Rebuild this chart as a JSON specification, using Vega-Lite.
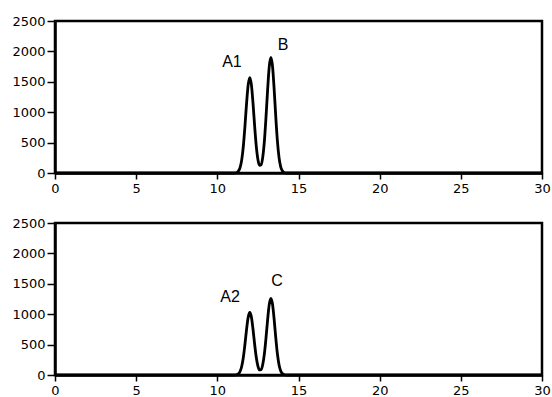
{
  "$schema": "https://vega.github.io/schema/vega-lite/v6.json",
  "padding": {"left": 10, "top": 13, "right": 0, "bottom": 0},
  "background": "white",
  "spacing": 18,
  "datasets": {
    "trace": [
      {"panel": 1, "t": 0, "s": 0},
      {"panel": 1, "t": 11.0, "s": 0},
      {"panel": 1, "t": 11.1, "s": 2},
      {"panel": 1, "t": 11.2, "s": 9},
      {"panel": 1, "t": 11.3, "s": 31},
      {"panel": 1, "t": 11.4, "s": 88},
      {"panel": 1, "t": 11.5, "s": 212},
      {"panel": 1, "t": 11.6, "s": 436},
      {"panel": 1, "t": 11.7, "s": 765},
      {"panel": 1, "t": 11.8, "s": 1140},
      {"panel": 1, "t": 11.9, "s": 1449},
      {"panel": 1, "t": 12.0, "s": 1570},
      {"panel": 1, "t": 12.1, "s": 1449},
      {"panel": 1, "t": 12.2, "s": 1140},
      {"panel": 1, "t": 12.3, "s": 766},
      {"panel": 1, "t": 12.4, "s": 439},
      {"panel": 1, "t": 12.5, "s": 223},
      {"panel": 1, "t": 12.6, "s": 126},
      {"panel": 1, "t": 12.7, "s": 137},
      {"panel": 1, "t": 12.8, "s": 266},
      {"panel": 1, "t": 12.9, "s": 530},
      {"panel": 1, "t": 13.0, "s": 926},
      {"panel": 1, "t": 13.1, "s": 1379},
      {"panel": 1, "t": 13.2, "s": 1754},
      {"panel": 1, "t": 13.3, "s": 1900},
      {"panel": 1, "t": 13.4, "s": 1754},
      {"panel": 1, "t": 13.5, "s": 1379},
      {"panel": 1, "t": 13.6, "s": 925},
      {"panel": 1, "t": 13.7, "s": 528},
      {"panel": 1, "t": 13.8, "s": 257},
      {"panel": 1, "t": 13.9, "s": 106},
      {"panel": 1, "t": 14.0, "s": 38},
      {"panel": 1, "t": 14.1, "s": 11},
      {"panel": 1, "t": 14.2, "s": 3},
      {"panel": 1, "t": 14.3, "s": 0},
      {"panel": 1, "t": 30, "s": 0},
      {"panel": 2, "t": 0, "s": 0},
      {"panel": 2, "t": 11.0, "s": 0},
      {"panel": 2, "t": 11.1, "s": 1},
      {"panel": 2, "t": 11.2, "s": 6},
      {"panel": 2, "t": 11.3, "s": 20},
      {"panel": 2, "t": 11.4, "s": 58},
      {"panel": 2, "t": 11.5, "s": 139},
      {"panel": 2, "t": 11.6, "s": 286},
      {"panel": 2, "t": 11.7, "s": 502},
      {"panel": 2, "t": 11.8, "s": 748},
      {"panel": 2, "t": 11.9, "s": 951},
      {"panel": 2, "t": 12.0, "s": 1030},
      {"panel": 2, "t": 12.1, "s": 951},
      {"panel": 2, "t": 12.2, "s": 748},
      {"panel": 2, "t": 12.3, "s": 502},
      {"panel": 2, "t": 12.4, "s": 288},
      {"panel": 2, "t": 12.5, "s": 147},
      {"panel": 2, "t": 12.6, "s": 83},
      {"panel": 2, "t": 12.7, "s": 91},
      {"panel": 2, "t": 12.8, "s": 176},
      {"panel": 2, "t": 12.9, "s": 352},
      {"panel": 2, "t": 13.0, "s": 614},
      {"panel": 2, "t": 13.1, "s": 915},
      {"panel": 2, "t": 13.2, "s": 1163},
      {"panel": 2, "t": 13.3, "s": 1260},
      {"panel": 2, "t": 13.4, "s": 1163},
      {"panel": 2, "t": 13.5, "s": 915},
      {"panel": 2, "t": 13.6, "s": 614},
      {"panel": 2, "t": 13.7, "s": 350},
      {"panel": 2, "t": 13.8, "s": 170},
      {"panel": 2, "t": 13.9, "s": 71},
      {"panel": 2, "t": 14.0, "s": 25},
      {"panel": 2, "t": 14.1, "s": 8},
      {"panel": 2, "t": 14.2, "s": 2},
      {"panel": 2, "t": 14.3, "s": 0},
      {"panel": 2, "t": 30, "s": 0}
    ],
    "labels": [
      {"panel": 1, "label": "A1", "t": 10.9, "s": 1826},
      {"panel": 1, "label": "B", "t": 14.05, "s": 2105},
      {"panel": 2, "label": "A2", "t": 10.78, "s": 1290},
      {"panel": 2, "label": "C", "t": 13.67, "s": 1548}
    ]
  },
  "config": {
    "view": {"stroke": "black", "strokeWidth": 2.5},
    "axis": {
      "grid": false,
      "domainColor": "black",
      "domainWidth": 2.5,
      "tickColor": "black",
      "tickWidth": 1.5,
      "labelFont": "DejaVu Sans",
      "labelFontSize": 13,
      "labelColor": "black",
      "labelBound": false,
      "title": null
    },
    "axisX": {"tickSize": 6, "labelPadding": 3},
    "axisY": {"tickSize": 8, "labelPadding": 2}
  },
  "vconcat": [
    {
      "width": 487,
      "height": 152,
      "encoding": {
        "x": {"field": "t", "type": "quantitative", "scale": {"domain": [0, 30], "nice": false},
              "axis": {"values": [0, 5, 10, 15, 20, 25, 30], "labelFlush": false, "labelOverlap": false, "format": "d"}},
        "y": {"field": "s", "type": "quantitative", "scale": {"domain": [0, 2500], "nice": false},
              "axis": {"values": [0, 500, 1000, 1500, 2000, 2500], "labelOverlap": false, "format": "d", "labelFlush": false}}
      },
      "layer": [
        {
          "data": {"name": "trace"},
          "transform": [{"filter": "datum.panel == 1"}],
          "mark": {"type": "line", "color": "black", "strokeWidth": 2.8, "interpolate": "monotone"}
        },
        {
          "data": {"name": "labels"},
          "transform": [{"filter": "datum.panel == 1"}],
          "mark": {"type": "text", "font": "Liberation Sans", "fontSize": 16, "color": "black", "align": "center", "baseline": "middle"},
          "encoding": {"text": {"field": "label"}}
        }
      ]
    },
    {
      "width": 487,
      "height": 152,
      "encoding": {
        "x": {"field": "t", "type": "quantitative", "scale": {"domain": [0, 30], "nice": false},
              "axis": {"values": [0, 5, 10, 15, 20, 25, 30], "labelFlush": false, "labelOverlap": false, "format": "d"}},
        "y": {"field": "s", "type": "quantitative", "scale": {"domain": [0, 2500], "nice": false},
              "axis": {"values": [0, 500, 1000, 1500, 2000, 2500], "labelOverlap": false, "format": "d", "labelFlush": false}}
      },
      "layer": [
        {
          "data": {"name": "trace"},
          "transform": [{"filter": "datum.panel == 2"}],
          "mark": {"type": "line", "color": "black", "strokeWidth": 2.8, "interpolate": "monotone"}
        },
        {
          "data": {"name": "labels"},
          "transform": [{"filter": "datum.panel == 2"}],
          "mark": {"type": "text", "font": "Liberation Sans", "fontSize": 16, "color": "black", "align": "center", "baseline": "middle"},
          "encoding": {"text": {"field": "label"}}
        }
      ]
    }
  ]
}
